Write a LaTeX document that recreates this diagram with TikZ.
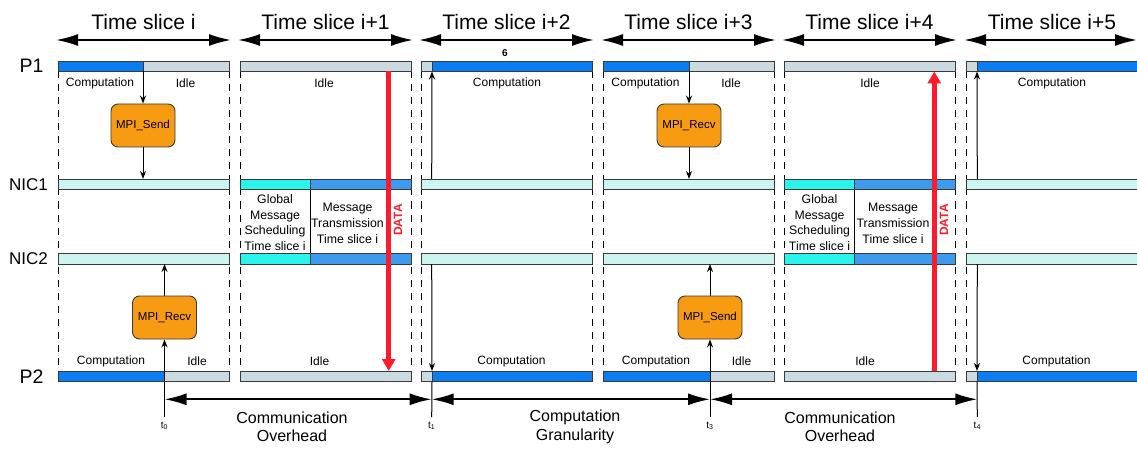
\documentclass[tikz,border=0pt]{standalone}
\usepackage{fontspec}
\setmainfont{Liberation Sans}
\usetikzlibrary{arrows.meta}
\definecolor{comp}{HTML}{0A7EF0}
\definecolor{idle}{HTML}{CBD9E0}
\definecolor{nicl}{HTML}{CCF5F2}
\definecolor{cyanb}{HTML}{29F5EB}
\definecolor{nicb}{HTML}{3D9BEF}
\definecolor{orng}{HTML}{F79B12}
\definecolor{dred}{HTML}{FF1A2A}
\definecolor{barline}{HTML}{3A3A3A}
\newcommand\seg[5]{\node[bar,fill=#5,minimum width={#3-#2}] (#1) at (#2,#4) {};}
\tikzset{
  bar/.style={draw=barline,line width=0.9pt,inner sep=0pt,outer sep=0pt,minimum height=10.5pt,anchor=north west},
  dsh/.style={dash pattern=on 7pt off 6pt,line width=0.9pt},
  conn/.style={line width=1pt,-{Stealth[length=8pt,width=6pt]}},
  plain/.style={line width=1pt},
  big/.style={line width=2pt,{Latex[length=22pt,width=12pt]}-{Latex[length=22pt,width=12pt]}},
  hdr/.style={font=\fontsize{21}{24}\selectfont,inner sep=0pt},
  prow/.style={font=\fontsize{19.5}{22}\selectfont,inner sep=0pt},
  nrow/.style={font=\fontsize{17}{20}\selectfont,inner sep=0pt},
  lbl/.style={font=\fontsize{12}{13}\selectfont,inner sep=0pt},
  multi/.style={font=\fontsize{12.3}{15.7}\selectfont,align=center,inner sep=0pt},
  ovh/.style={font=\fontsize{16}{18.4}\selectfont,align=center,inner sep=0pt},
  tl/.style={font=\fontsize{10}{12}\selectfont,inner sep=0pt},
  mpi/.style={draw=barline,fill=orng,rounded corners=7pt,minimum width=64pt,minimum height=43pt,inner sep=0pt,font=\fontsize{11.5}{13}\selectfont,line width=0.9pt},
  data/.style={draw=dred,line width=4.5pt,-{Triangle[length=12pt,width=13pt]},color=dred},
  datal/.style={font=\bfseries\fontsize{12}{14}\selectfont,text=dred,rotate=90,inner sep=0pt}
}
\begin{document}
\begin{tikzpicture}[x=1pt,y=-1pt]
\useasboundingbox (0,0) rectangle (1137,449);
\clip (0,0) rectangle (1137,449);
% headers
\foreach \cx/\l/\r/\t [count=\k] in {143.5/56/231/i, 325.5/238/413/i+1, 506.5/419/594/i+2, 688.5/601/776/i+3, 869.5/782/957/i+4, 1052/964/1137/i+5}{
  \node[hdr] (h\k) at (\cx,22) {Time slice \t};
  \coordinate (hl\k) at (\l,40);
  \coordinate (hr\k) at (\r,40);
  \draw[big] (hl\k) -- (hr\k);
}
% row labels
\node[prow] (lp1) at (31.5,66) {P1};
\node[nrow] (ln1) at (28.5,185) {NIC1};
\node[nrow] (ln2) at (28.5,259) {NIC2};
\node[prow] (lp2) at (31.5,376.5) {P2};
% dashed lines
\foreach \x [count=\k] in {58,229,240,411,421,592,603,774,784,955,966}{
  \coordinate (dt\k) at (\x,71.5);
  \coordinate (db\k) at (\x,371);
  \draw[dsh] (dt\k) -- (db\k);
}
% dividers
\coordinate (dv1t) at (310,189.5); \coordinate (dv1b) at (310,253.5);
\coordinate (dv2t) at (854,189.5); \coordinate (dv2b) at (854,253.5);
\draw[plain] (dv1t) -- (dv1b);
\draw[plain] (dv2t) -- (dv2b);
% P1 bars
\seg{pa1}{58}{143}{61}{comp}\seg{pa2}{143}{229}{61}{idle}
\seg{pa3}{240}{411}{61}{idle}
\seg{pa4}{421}{432}{61}{idle}\seg{pa5}{432}{592}{61}{comp}
\seg{pa6}{603}{689}{61}{comp}\seg{pa7}{689}{774}{61}{idle}
\seg{pa8}{784}{955}{61}{idle}
\seg{pa9}{966}{977}{61}{idle}\seg{pa10}{977}{1150}{61}{comp}
% NIC bars
\foreach \r/\y in {na/179, nb/253.5}{
  \seg{\r1}{58}{229}{\y}{nicl}
  \seg{\r2}{240}{310}{\y}{cyanb}\seg{\r3}{310}{411}{\y}{nicb}
  \seg{\r4}{421}{592}{\y}{nicl}
  \seg{\r5}{603}{774}{\y}{nicl}
  \seg{\r6}{784}{854}{\y}{cyanb}\seg{\r7}{854}{955}{\y}{nicb}
  \seg{\r8}{966}{1150}{\y}{nicl}
}
% P2 bars
\seg{pb1}{58}{164.5}{371}{comp}\seg{pb2}{164.5}{229}{371}{idle}
\seg{pb3}{240}{411}{371}{idle}
\seg{pb4}{421}{432}{371}{idle}\seg{pb5}{432}{592}{371}{comp}
\seg{pb6}{603}{710}{371}{comp}\seg{pb7}{710}{774}{371}{idle}
\seg{pb8}{784}{955}{371}{idle}
\seg{pb9}{966}{977}{371}{idle}\seg{pb10}{977}{1150}{371}{comp}
% labels under P1
\foreach \x/\t [count=\k] in {100/Computation, 185.5/Idle, 324/Idle, 507/Computation, 645.5/Computation, 731/Idle, 870/Idle, 1052/Computation}{
  \node[lbl] (ta\k) at (\x,83.5) {\t};
}
% labels over P2
\foreach \x/\t [count=\k] in {111/Computation, 197/Idle, 319.5/Idle, 511.5/Computation, 656/Computation, 741.5/Idle, 865/Idle, 1056.5/Computation}{
  \node[lbl] (tb\k) at (\x,361.5) {\t};
}
\node[font=\bfseries\fontsize{10}{12}\selectfont,inner sep=0pt] (six) at (505,53) {6};
% NIC texts
\node[multi] (gm1) at (275,222.5) {Global\\Message\\Scheduling\\Time slice i};
\node[multi] (mt1) at (347.5,223.5) {Message\\Transmission\\Time slice i};
\node[multi] (gm2) at (819.5,222.5) {Global\\Message\\Scheduling\\Time slice i};
\node[multi] (mt2) at (893,223.5) {Message\\Transmission\\Time slice i};
% MPI boxes
\node[mpi] (send1) at (143,125.5) {MPI\_Send};
\node[mpi] (recv1) at (164.5,317.5) {MPI\_Recv};
\node[mpi] (recv4) at (689,125.5) {MPI\_Recv};
\node[mpi] (send4) at (710,317.5) {MPI\_Send};
% time coordinates
\coordinate (t0) at (164.5,417);
\coordinate (t1) at (431.7,417);
\coordinate (t3) at (710,417);
\coordinate (t4) at (977.3,417);
% slice 1 connectors
\draw[conn] (pa1.south east) -- (send1.north);
\draw[conn] (send1.south) -- (send1.south |- na1.north);
\draw[conn] (t0) -- (recv1.south);
\draw[conn] (recv1.north) -- (recv1.north |- nb1.south);
% slice 4 connectors
\draw[conn] (pa6.south east) -- (recv4.north);
\draw[conn] (recv4.south) -- (recv4.south |- na5.north);
\draw[conn] (t3) -- (send4.south);
\draw[conn] (send4.north) -- (send4.north |- nb5.south);
% slice 3 / 6 connectors
\draw[conn] (na4.north -| t1) -- (pa4.south east);
\draw[conn] (nb4.south -| t1) -- (pb4.north east);
\draw[plain] (pb4.south east) -- (t1);
\draw[conn] (na8.north -| t4) -- (pa9.south east);
\draw[conn] (nb8.south -| t4) -- (pb9.north east);
\draw[plain] (pb9.south east) -- (t4);
% DATA arrows
\coordinate (d1a) at (388.7,71.5); \coordinate (d1b) at (388.7,371);
\coordinate (d2a) at (934.3,371); \coordinate (d2b) at (934.3,71.5);
\draw[data] (d1a) -- (d1b);
\draw[data] (d2a) -- (d2b);
\node[datal] (dl1) at (398,220) {DATA};
\node[datal] (dl2) at (944,220) {DATA};
% bottom timeline
\draw[big] (t0 |- 0,399.3) -- (t1 |- 0,399.3);
\draw[big] (t1 |- 0,399.3) -- (t3 |- 0,399.3);
\draw[big] (t3 |- 0,399.3) -- (t4 |- 0,399.3);
\node[tl] (lt0) at (164.5,426) {t\textsubscript{0}};
\node[tl] (lt1) at (431.7,426) {t\textsubscript{1}};
\node[tl] (lt3) at (710,426) {t\textsubscript{3}};
\node[tl] (lt4) at (977.3,426) {t\textsubscript{4}};
\node[ovh] (co1) at (292,427) {Communication\\Overhead};
\node[ovh] (cg) at (575,427) {Computation\\Granularity};
\node[ovh] (co2) at (840,427) {Communication\\Overhead};
\end{tikzpicture}
\end{document}
